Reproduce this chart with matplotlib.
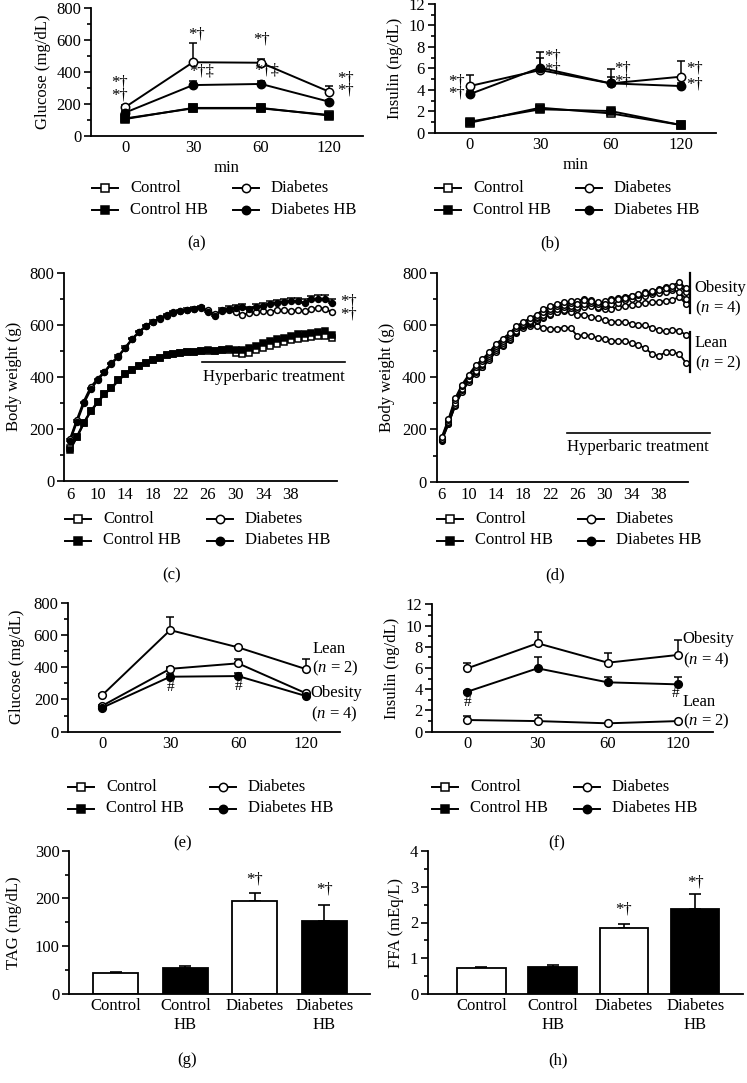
import numpy as np
import matplotlib
matplotlib.use("Agg")
import matplotlib.pyplot as plt
from matplotlib.ticker import MultipleLocator

plt.rcParams['font.family'] = ['Liberation Serif', 'DejaVu Serif']
plt.rcParams['font.size'] = 12
plt.rcParams['mathtext.fontset'] = 'custom'
plt.rcParams['mathtext.rm'] = 'Liberation Serif'
plt.rcParams['mathtext.it'] = 'Liberation Serif:italic'

W, H = 747, 1083

# ---------------- data ----------------
ogtt_times = ['0', '30', '60', '120']

# (a) glucose during OGTT
glu_control = [110, 173, 173, 132]
glu_control_err = [6, 8, 8, 6]
glu_control_hb = [106, 176, 176, 128]
glu_control_hb_err = [6, 10, 10, 6]
glu_diabetes = [180, 462, 459, 278]
glu_diabetes_err = [12, 118, 25, 35]
glu_diabetes_hb = [146, 319, 326, 215]
glu_diabetes_hb_err = [8, 26, 19, 8]

# (b) insulin during OGTT
ins_control = [0.93, 2.33, 1.80, 0.72]
ins_control_err = [0.1, 0.25, 0.15, 0.05]
ins_control_hb = [1.03, 2.18, 2.02, 0.72]
ins_control_hb_err = [0.1, 0.2, 0.15, 0.05]
ins_diabetes = [4.35, 5.84, 4.60, 5.22]
ins_diabetes_err = [1.03, 1.71, 1.30, 1.46]
ins_diabetes_hb = [3.60, 6.06, 4.60, 4.35]
ins_diabetes_hb_err = [0.3, 0.94, 0.6, 0.3]

# (c) body weight, weeks 6..44
weeks_c = list(range(6, 45))
bw_control = [125, 168, 222, 268, 302, 335, 357, 386, 410, 427, 441, 454, 465, 473,
              482, 488, 491, 495, 497, 500, 500, 498, 502, 505, 490, 488, 492, 505,
              512, 520, 528, 535, 540, 545, 550, 552, 555, 558, 550]
bw_control_hb = [118, 170, 224, 268, 302, 335, 357, 386, 412, 427, 441, 454, 465, 473,
                 482, 488, 491, 495, 497, 500, 502, 500, 505, 508, 505, 505, 510, 520,
                 530, 538, 545, 550, 558, 565, 565, 568, 572, 575, 560]
bw_diabetes = [160, 235, 305, 360, 392, 420, 452, 480, 510, 545, 572, 595, 612, 622,
               635, 645, 652, 655, 660, 665, 655, 640, 652, 655, 648, 638, 645, 650,
               652, 650, 655, 655, 652, 655, 652, 660, 665, 660, 648]
bw_diabetes_hb = [155, 228, 298, 352, 388, 418, 450, 478, 512, 545, 572, 595, 612, 625,
                  638, 648, 652, 658, 662, 668, 650, 635, 658, 662, 665, 668, 660, 668,
                  672, 680, 685, 688, 692, 690, 685, 698, 700, 698, 685]
bw_diabetes_hb_err = [5, 5, 5, 5, 5, 5, 5, 5, 5, 5, 5, 5, 5, 5, 5, 5, 5, 5, 5, 5,
                      8, 8, 8, 10, 10, 10, 10, 10, 12, 12, 12, 12, 12, 14, 14, 14, 14, 15, 15]

# (d) body weight of individual diabetic animals, weeks 6..42
weeks_d = list(range(6, 43))
bw_obese_1 = [170, 240, 320, 372, 410, 445, 470, 495, 528, 548, 568, 595, 612,
              625, 640, 660, 672, 680, 688, 690, 680, 695, 690, 688, 682, 695, 700,
              705, 712, 718, 722, 730, 735, 740, 750, 765, 740]
bw_obese_2 = [165, 235, 312, 365, 405, 438, 462, 490, 520, 540, 560, 588, 605,
              615, 630, 650, 662, 672, 678, 685, 692, 700, 695, 680, 690, 700, 702,
              708, 712, 715, 725, 728, 738, 745, 742, 750, 725]
bw_obese_3 = [160, 228, 300, 355, 395, 425, 450, 480, 510, 530, 552, 578, 600,
              610, 625, 640, 652, 660, 668, 672, 668, 680, 685, 670, 672, 680, 685,
              695, 700, 705, 710, 718, 722, 728, 735, 725, 700]
bw_obese_4 = [162, 225, 295, 350, 388, 418, 445, 472, 505, 525, 548, 575, 598,
              608, 620, 632, 642, 650, 658, 665, 660, 668, 672, 665, 660, 662, 668,
              672, 678, 680, 685, 688, 688, 692, 695, 708, 680]
bw_lean_1 = [158, 222, 290, 345, 382, 412, 438, 465, 498, 520, 545, 572, 595,
             605, 615, 628, 640, 648, 655, 650, 640, 640, 632, 625, 618, 612, 612,
             610, 605, 598, 598, 590, 580, 575, 580, 578, 562]
bw_lean_2 = [155, 220, 292, 348, 385, 415, 440, 468, 500, 522, 542, 570, 590,
             595, 595, 590, 585, 585, 590, 588, 558, 562, 558, 550, 545, 540, 538,
             538, 530, 522, 512, 488, 482, 495, 495, 490, 455]

# (e) glucose, lean vs obese diabetic
glu_lean = [227, 630, 523, 388]
glu_lean_err = [8, 83, 10, 60]
glu_obese = [161, 390, 424, 238]
glu_obese_err = [6, 10, 24, 8]
glu_dhb = [149, 341, 345, 221]
glu_dhb_err = [5, 16, 17, 6]

# (f) insulin, lean vs obese diabetic
ins_obese = [5.97, 8.33, 6.50, 7.23]
ins_obese_err = [0.53, 1.10, 0.88, 1.41]
ins_dhb = [3.77, 5.97, 4.65, 4.46]
ins_dhb_err = [0.1, 1.03, 0.53, 0.66]
ins_lean = [1.10, 1.00, 0.79, 1.00]
ins_lean_err = [0.38, 0.57, 0.05, 0.05]

# (g, h) lipids
groups = ['Control', 'Control\nHB', 'Diabetes', 'Diabetes\nHB']
tag = [45, 54, 195, 153]
tag_err = [2, 5, 16, 34]
ffa = [0.72, 0.76, 1.85, 2.38]
ffa_err = [0.04, 0.04, 0.10, 0.41]

fig = plt.figure(figsize=(W / 100, H / 100), dpi=100)


def make_ax(left, right, top, bottom):
    return fig.add_axes([left / W, 1 - bottom / H, (right - left) / W, (bottom - top) / H])


def style_ax(ax, ymax, major, minor):
    for s in ['top', 'right']:
        ax.spines[s].set_visible(False)
    for s in ['left', 'bottom']:
        ax.spines[s].set_linewidth(1.3)
    ax.set_ylim(0, ymax)
    ax.yaxis.set_major_locator(MultipleLocator(major))
    ax.yaxis.set_minor_locator(MultipleLocator(minor))
    ax.tick_params(axis='y', which='major', length=5, width=1.2, pad=2, labelsize=12)
    ax.tick_params(axis='y', which='minor', length=3, width=1.2)
    ax.tick_params(axis='x', length=0, pad=3, labelsize=12)


def series(ax, x, y, err, marker, filled, ms=6, lw=1.4):
    if err is not None:
        ax.errorbar(x, y, yerr=[np.zeros(len(err)), err], fmt='none', ecolor='black',
                    elinewidth=1.1, capsize=3, capthick=1.1, zorder=1)
    ax.plot(x, y, color='black', lw=lw, zorder=2)
    ax.plot(x, y, linestyle='none', marker=marker, ms=ms, mec='black', mew=1.1,
            mfc='black' if filled else 'white', zorder=3, clip_on=False)


def ogtt_ax(ax):
    ax.set_xlim(-0.5, 3.5)
    ax.set_xticks(range(4))
    ax.set_xticklabels(ogtt_times)


def marks(ax, items):
    for tx, ty, s in items:
        ax.text(tx, ty, s, ha='center', va='center', fontsize=12, clip_on=False)


# overlay for legends and panel letters (pixel coordinates)
ov = fig.add_axes([0, 0, 1, 1])
ov.set_xlim(0, W)
ov.set_ylim(H, 0)
ov.axis('off')


def legend_at(x0, y0, dx_col):
    entries = [('Control', 's', False, 0, 0), ('Diabetes', 'o', False, 1, 0),
               ('Control HB', 's', True, 0, 1), ('Diabetes HB', 'o', True, 1, 1)]
    for label, m, filled, col, row in entries:
        hx = x0 + col * dx_col
        hy = y0 + row * 21.5
        ov.plot([hx, hx + 26], [hy, hy], color='black', lw=1.4)
        ov.plot([hx + 13], [hy], marker=m, ms=6, mec='black', mew=1.1,
                mfc='black' if filled else 'white')
        ov.text(hx + 38, hy, label, ha='left', va='center', fontsize=12)


x = np.arange(4)

# ---- (a) ----
ax = make_ax(91, 363, 8.3, 136)
style_ax(ax, 800, 200, 100)
ogtt_ax(ax)
series(ax, x, glu_control, glu_control_err, 's', False)
series(ax, x, glu_control_hb, glu_control_hb_err, 's', True)
series(ax, x, glu_diabetes, glu_diabetes_err, 'o', False)
series(ax, x, glu_diabetes_hb, glu_diabetes_hb_err, 'o', True)
ax.set_ylabel('Glucose (mg/dL)')
ax.set_xlabel('min', labelpad=3)
marks(ax, [(-0.08, 333, '*†'), (-0.08, 255, '*†'), (1.05, 633, '*†'),
           (1.13, 403, '*†‡'), (2.0, 602, '*†'), (2.09, 413, '*†‡'),
           (3.25, 360, '*†'), (3.25, 282, '*†')])

# ---- (b) ----
ax = make_ax(434.7, 716, 4, 132.7)
style_ax(ax, 12, 2, 1)
ogtt_ax(ax)
series(ax, x, ins_control, ins_control_err, 's', False)
series(ax, x, ins_control_hb, ins_control_hb_err, 's', True)
series(ax, x, ins_diabetes, ins_diabetes_err, 'o', False)
series(ax, x, ins_diabetes_hb, ins_diabetes_hb_err, 'o', True)
ax.set_ylabel('Insulin (ng/dL)')
ax.set_xlabel('min', labelpad=3)
marks(ax, [(-0.19, 4.8, '*†'), (-0.19, 3.62, '*†'), (1.18, 7.1, '*†'),
           (1.18, 5.85, '*†'), (2.17, 6.0, '*†'), (2.17, 4.75, '*†'),
           (3.19, 5.94, '*†'), (3.19, 4.54, '*†')])

# ---- (c) ----
ax = make_ax(64, 337, 272.7, 481)
style_ax(ax, 800, 200, 100)
ax.set_xlim(5.13, 44.7)
ax.set_xticks(range(6, 39, 4))
ax.tick_params(axis='x', pad=4)
series(ax, weeks_c, bw_control, None, 's', False, ms=4.2, lw=1.6)
series(ax, weeks_c, bw_control_hb, None, 's', True, ms=4.2, lw=1.6)
series(ax, weeks_c, bw_diabetes, None, 'o', False, ms=4.2, lw=1.6)
series(ax, weeks_c, bw_diabetes_hb, bw_diabetes_hb_err, 'o', True, ms=4.2, lw=1.6)
ax.set_ylabel('Body weight (g)', labelpad=5)
ax.plot([25.2, 45.9], [457, 457], color='black', lw=1.2, clip_on=False)
ax.text(35.6, 400, 'Hyperbaric treatment', ha='center', va='center', fontsize=12)
marks(ax, [(46.3, 691, '*†'), (46.3, 640, '*†')])

# ---- (d) ----
ax = make_ax(436.7, 688, 272.7, 481.7)
style_ax(ax, 800, 200, 100)
ax.set_xlim(5.27, 42.3)
ax.set_xticks(range(6, 39, 4))
ax.tick_params(axis='x', pad=4)
for bw in [bw_lean_2, bw_lean_1, bw_obese_4, bw_obese_3, bw_obese_2, bw_obese_1]:
    series(ax, weeks_d, bw, None, 'o', False, ms=4, lw=1.3)
ax.set_ylabel('Body weight (g)', labelpad=5)
ax.plot([24.4, 45.5], [187, 187], color='black', lw=1.2, clip_on=False)
ax.text(34.9, 134, 'Hyperbaric treatment', ha='center', va='center', fontsize=12)
ax.plot([42.55, 42.55], [644, 797], color='black', lw=1.6, clip_on=False)
ax.plot([42.55, 42.55], [421, 574], color='black', lw=1.6, clip_on=False)
for ty, s in [(740, 'Obesity'), (662, '($n$ = 4)'), (529, 'Lean'), (451, '($n$ = 2)')]:
    ax.text(43.3, ty, s, ha='left', va='center', fontsize=12, clip_on=False)

# ---- (e) ----
ax = make_ax(68.3, 340, 602.7, 731.7)
style_ax(ax, 800, 200, 100)
ogtt_ax(ax)
series(ax, x, glu_lean, glu_lean_err, 'o', False, ms=5.5)
series(ax, x, glu_obese, glu_obese_err, 'o', False, ms=5.5)
series(ax, x, glu_dhb, glu_dhb_err, 'o', True, ms=5.5)
ax.set_ylabel('Glucose (mg/dL)', labelpad=6)
ax.text(1, 272, '#', ha='center', va='center', fontsize=11)
ax.text(2, 278, '#', ha='center', va='center', fontsize=11)
for tx, ty, s in [(3.09, 510, 'Lean'), (3.09, 393, '($n$ = 2)'),
                  (3.07, 238, 'Obesity'), (3.07, 110, '($n$ = 4)')]:
    ax.text(tx, ty, s, ha='left', va='center', fontsize=12, clip_on=False)

# ---- (f) ----
ax = make_ax(432.3, 713, 604.3, 731.7)
style_ax(ax, 12, 2, 1)
ogtt_ax(ax)
series(ax, x, ins_obese, ins_obese_err, 'o', False, ms=5.5)
series(ax, x, ins_dhb, ins_dhb_err, 'o', True, ms=5.5)
series(ax, x, ins_lean, ins_lean_err, 'o', False, ms=5.5)
ax.set_ylabel('Insulin (ng/dL)')
ax.text(0, 2.75, '#', ha='center', va='center', fontsize=11)
ax.text(2.96, 3.6, '#', ha='center', va='center', fontsize=11, clip_on=False)
for ty, s in [(8.7, 'Obesity'), (6.75, '($n$ = 4)'), (2.83, 'Lean'), (0.94, '($n$ = 2)')]:
    ax.text(3.07, ty, s, ha='left', va='center', fontsize=12, clip_on=False)

# ---- (g) ----
bar_colors = ['white', 'black', 'white', 'black']
ax = make_ax(69.3, 370, 850.7, 994)
style_ax(ax, 300, 100, 50)
ax.set_xlim(-0.67, 3.66)
ax.bar(range(4), tag, width=0.65, color=bar_colors, edgecolor='black', linewidth=1.3, zorder=2)
ax.errorbar(range(4), tag, yerr=[np.zeros(4), tag_err], fmt='none', ecolor='black',
            elinewidth=1.2, capsize=4, capthick=1.2, zorder=1)
ax.set_xticks(range(4))
ax.set_xticklabels(groups, linespacing=1.2)
ax.set_ylabel('TAG (mg/dL)', labelpad=9)
marks(ax, [(2, 240, '*†'), (3, 219, '*†')])

# ---- (h) ----
ax = make_ax(428, 743, 851, 994)
style_ax(ax, 4, 1, 0.5)
ax.set_xlim(-0.75, 3.67)
ax.bar(range(4), ffa, width=0.68, color=bar_colors, edgecolor='black', linewidth=1.3, zorder=2)
ax.errorbar(range(4), ffa, yerr=[np.zeros(4), ffa_err], fmt='none', ecolor='black',
            elinewidth=1.2, capsize=4, capthick=1.2, zorder=1)
ax.set_xticks(range(4))
ax.set_xticklabels(groups, linespacing=1.2)
ax.set_ylabel('FFA (mEq/L)')
marks(ax, [(2, 2.35, '*†'), (3, 3.11, '*†')])

# legends and panel letters
legend_at(92, 188, 141)
legend_at(435, 188, 141)
legend_at(65, 519, 142)
legend_at(437, 519, 141)
legend_at(68, 787, 142)
legend_at(432, 787, 142)
for lx, ly, s in [(197, 243, '(a)'), (550, 243, '(b)'), (172, 575, '(c)'), (555, 575, '(d)'),
                  (183, 843, '(e)'), (557, 843, '(f)'), (187, 1060, '(g)'), (558, 1060, '(h)')]:
    ov.text(lx, ly, s, ha='center', va='center', fontsize=12)

fig.savefig('out.png', dpi=100)
